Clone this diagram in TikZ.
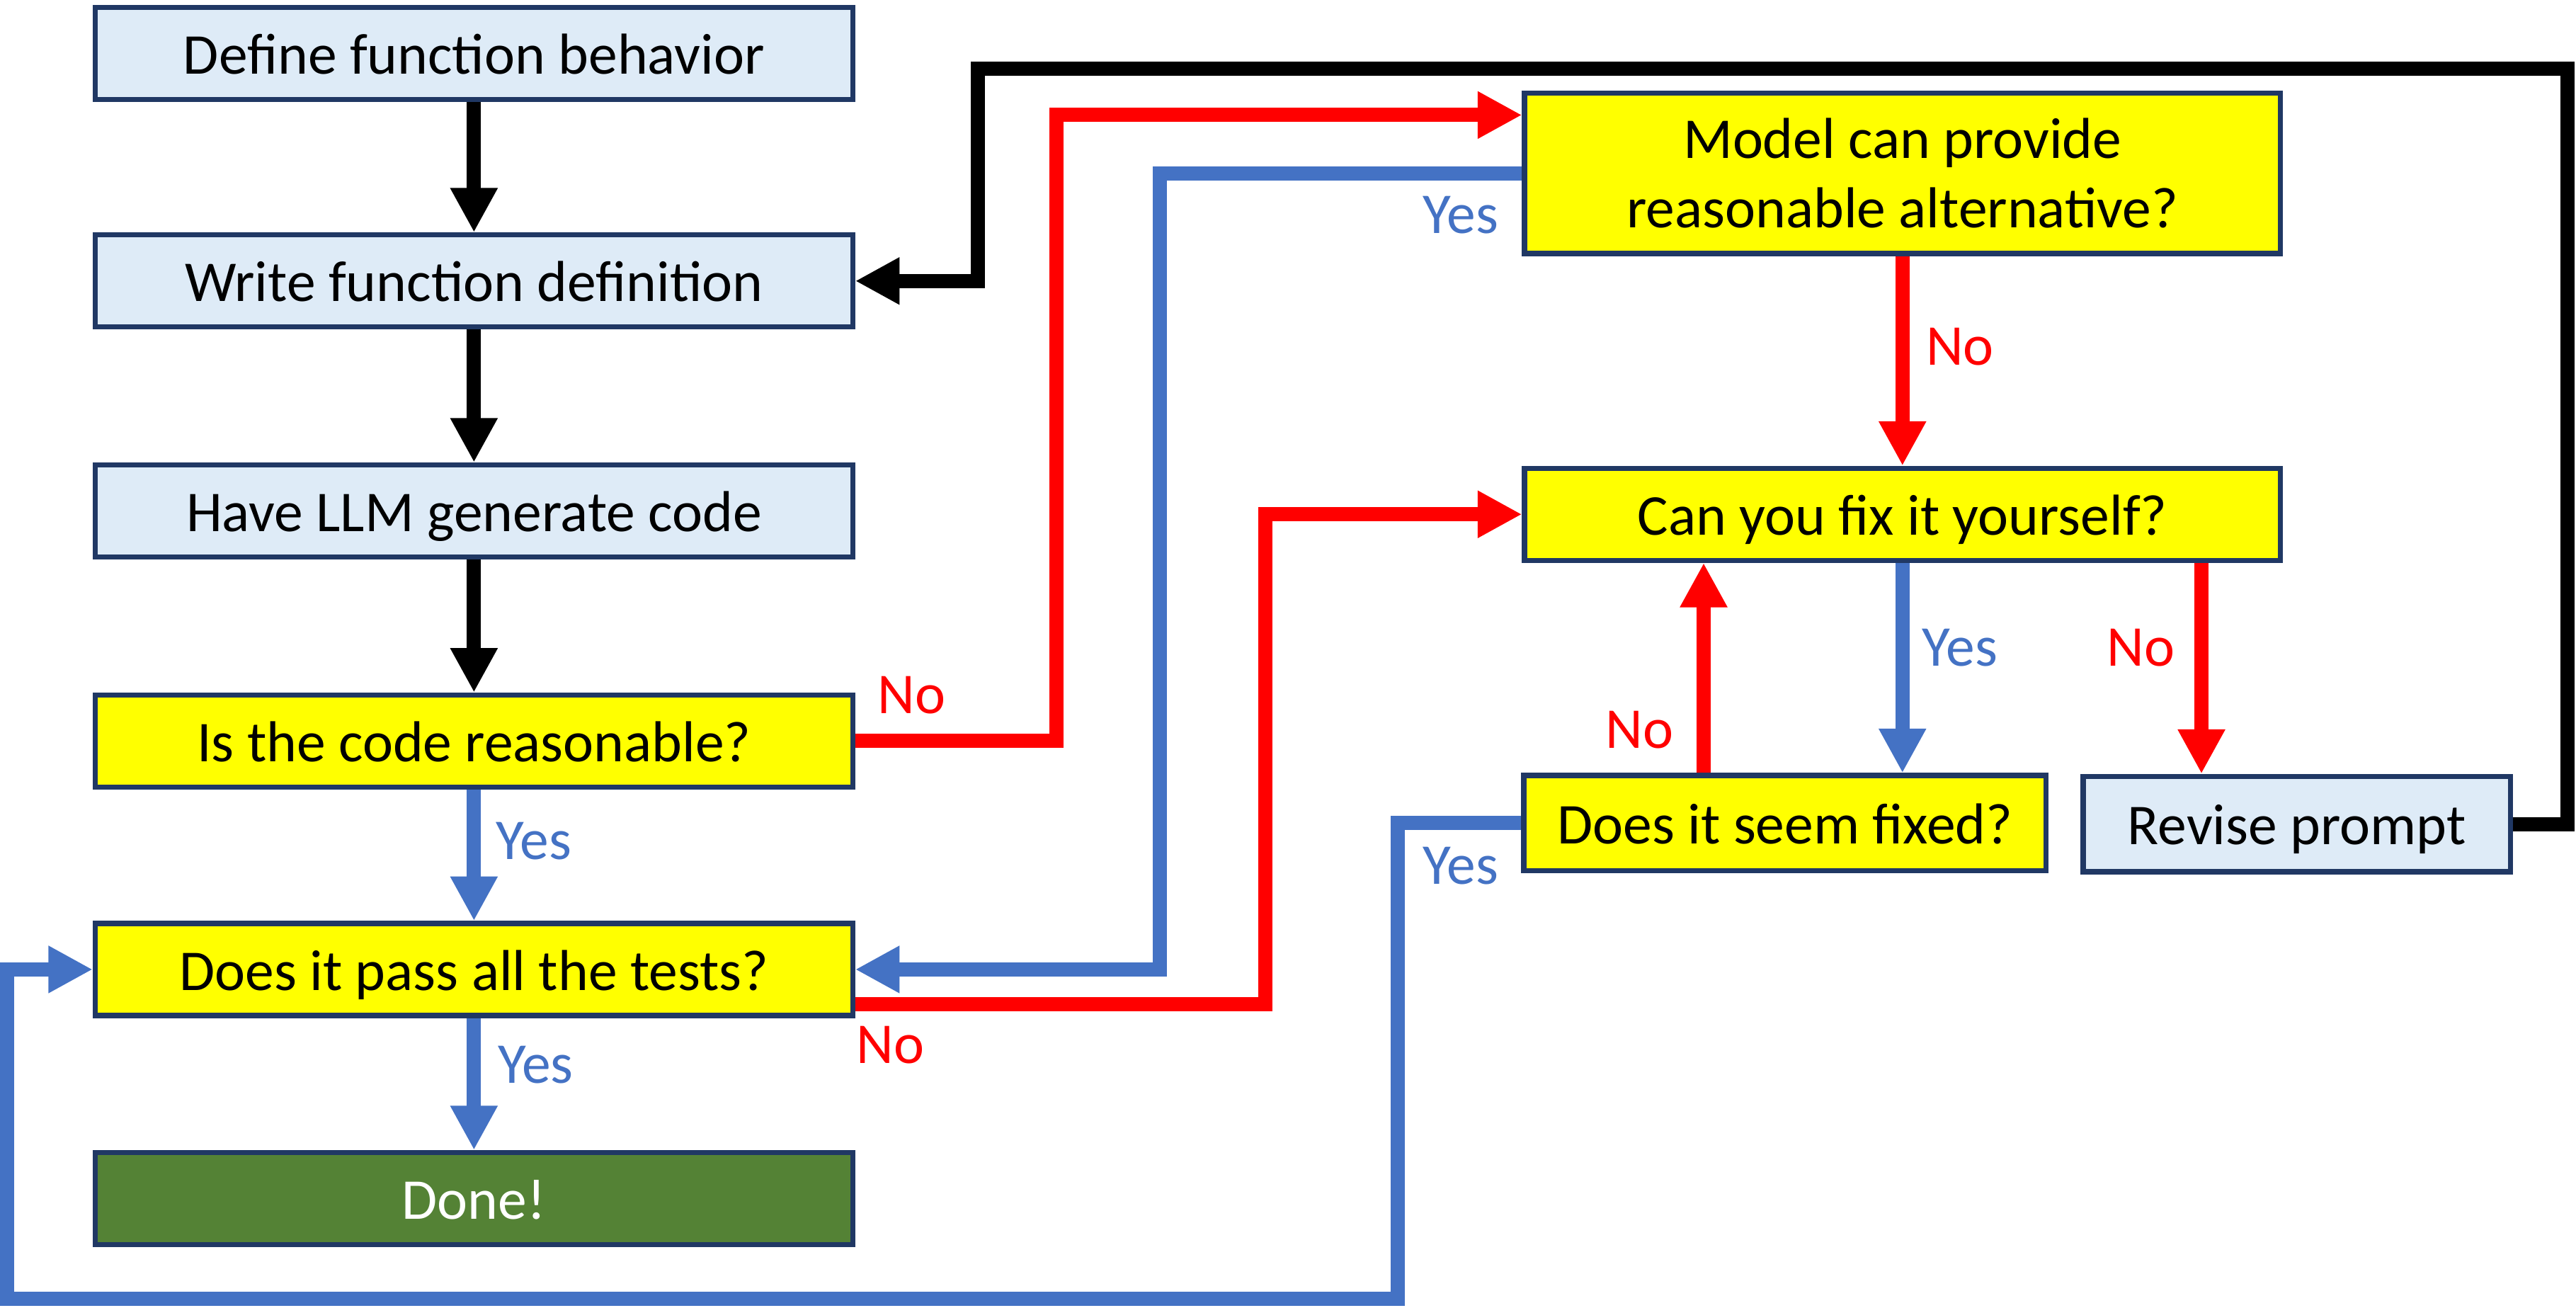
\documentclass[tikz,border=0pt]{standalone}
\usepackage{fontspec}
\setmainfont{Carlito}
\usepackage{xcolor}
\usetikzlibrary{arrows.meta,calc}

\definecolor{edgeblue}{HTML}{203864}
\definecolor{stepfill}{HTML}{DEEBF7}
\definecolor{askfill}{HTML}{FFFF00}
\definecolor{donefill}{HTML}{548235}
\definecolor{yesblue}{HTML}{4472C4}
\definecolor{nored}{HTML}{FF0000}

\begin{document}
\begin{tikzpicture}[>={Triangle[length=0.27cm,width=0.27cm]},line join=miter,
  font=\fontsize{10}{12}\selectfont,
  stepbox/.style={draw=edgeblue,line width=0.9pt,fill=stepfill,minimum width=4.61cm,minimum height=0.56cm,inner sep=0pt,text height=1.8ex,text depth=0.3ex},
  askbox/.style={stepbox,fill=askfill},
  donebox/.style={stepbox,fill=donefill,text=white},
  flow/.style={line width=2.45pt,->},
  yesline/.style={flow,draw=yesblue},
  noline/.style={flow,draw=nored},
  yeslbl/.style={text=yesblue},
  nolbl/.style={text=nored}]
  \useasboundingbox (0,0) rectangle (15.68,-7.96);
  % left column
  \node[stepbox] (def) at (2.885,-0.325) {Define function behavior};
  \node[stepbox] (wri) at (2.885,-1.71) {Write function definition};
  \node[stepbox] (gen) at (2.885,-3.11) {Have LLM generate code};
  \node[askbox] (rsn) at (2.885,-4.51) {Is the code reasonable?};
  \node[askbox] (tst) at (2.885,-5.90) {Does it pass all the tests?};
  \node[donebox] (done) at (2.885,-7.295) {Done!};
  % right column
  \node[askbox,minimum width=4.60cm,minimum height=0.975cm,align=center,text height=,text depth=] (alt) at (11.58,-1.055) {Model can provide\\reasonable alternative?};
  \node[askbox,minimum width=4.60cm] (fix) at (11.58,-3.13) {Can you fix it yourself?};
  \node[askbox,minimum width=3.18cm,minimum height=0.58cm] (seem) at (10.865,-5.01) {Does it seem fixed?};
  \node[stepbox,minimum width=2.60cm,minimum height=0.58cm] (rev) at (13.98,-5.015) {Revise prompt};
  % bends
  \coordinate (r1) at (6.43,-0.70);
  \coordinate (y1) at (7.06,-5.90);
  \coordinate (n2) at (7.70,-6.11);
  \coordinate (y2) at (8.51,-7.905);
  \coordinate (y3) at (0.045,-7.905);
  \coordinate (b1) at (15.63,-0.42);
  \coordinate (b2) at (5.95,-0.42);
  \coordinate (u1) at (10.37,0);
  \coordinate (d1) at (13.40,0);
  % straight down
  \draw[flow] (def) -- (wri);
  \draw[flow] (wri) -- (gen);
  \draw[flow] (gen) -- (rsn);
  \draw[yesline] (rsn) -- (tst);
  \draw[yesline] (tst) -- (done);
  \draw[noline] (alt) -- (fix);
  \draw[yesline] (fix.south) -- (fix.south |- seem.north);
  \draw[noline] (seem.north -| u1) -- (fix.south -| u1);
  \draw[noline] (fix.south -| d1) -- (rev.north -| d1);
  % loops
  \draw[noline] (rsn.east) -| (r1) -- (alt.west |- r1);
  \draw[yesline] (alt.west) -| (y1) -- (tst.east);
  \draw[noline] (tst.east |- n2) -- (n2) |- (fix.west);
  \draw[yesline] (seem.west) -| (y2) -- (y3) |- (tst.west);
  \draw[flow] (rev.east) -| (b1) -- (b2) |- (wri.east);
  % labels
  \node[yeslbl] (l1) at (3.25,-5.12) {Yes};
  \node[yeslbl] (l2) at (3.26,-6.48) {Yes};
  \node[nolbl] (l3) at (5.55,-4.23) {No};
  \node[nolbl] (l4) at (5.42,-6.36) {No};
  \node[yeslbl] (l5) at (8.89,-1.31) {Yes};
  \node[nolbl] (l6) at (11.93,-2.11) {No};
  \node[yeslbl] (l7) at (11.93,-3.94) {Yes};
  \node[nolbl] (l8) at (13.03,-3.94) {No};
  \node[nolbl] (l9) at (9.98,-4.44) {No};
  \node[yeslbl] (l10) at (8.89,-5.27) {Yes};
\end{tikzpicture}
\end{document}
